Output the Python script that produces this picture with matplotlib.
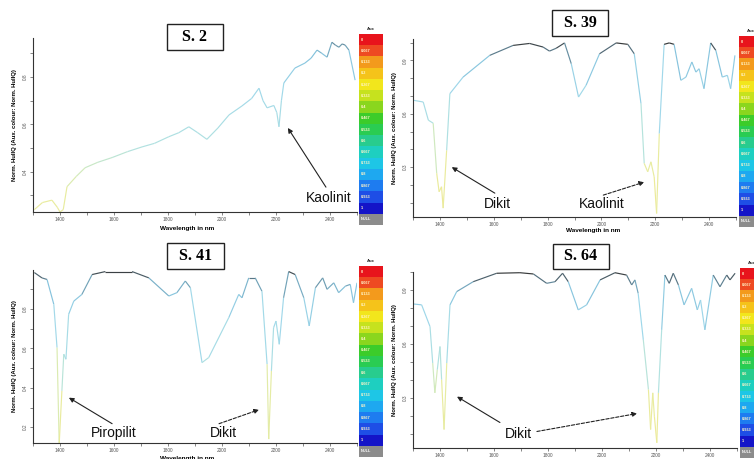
import numpy as np
import matplotlib
matplotlib.use('Agg')
import matplotlib.pyplot as plt
from matplotlib.collections import LineCollection
from matplotlib.colors import LinearSegmentedColormap
from matplotlib.patches import Rectangle
from matplotlib.ticker import MultipleLocator

# spectra (wavelength in nm, normalised hull quotient)
s2_wl = [1305, 1335, 1370, 1390, 1400, 1412, 1426, 1460, 1493, 1540, 1593, 1650, 1704, 1750,
         1803, 1840, 1877, 1910, 1944, 1985, 2026, 2074, 2110, 2137, 2152, 2167, 2192, 2203,
         2211, 2220, 2229, 2270, 2307, 2330, 2352, 2370, 2389, 2407, 2420, 2433, 2445, 2456,
         2470, 2493]
s2_val = [0.24, 0.27, 0.28, 0.25, 0.23, 0.24, 0.337, 0.38, 0.417, 0.44, 0.46, 0.485, 0.505, 0.52,
          0.548, 0.565, 0.59, 0.565, 0.537, 0.585, 0.64, 0.678, 0.71, 0.753, 0.70, 0.67, 0.68, 0.65,
          0.59, 0.70, 0.775, 0.838, 0.859, 0.88, 0.914, 0.90, 0.884, 0.947, 0.935, 0.926, 0.94, 0.935,
          0.914, 0.787]

s39_wl = [1301, 1338, 1357, 1375, 1388, 1397, 1406, 1412, 1425, 1437, 1486, 1585, 1672, 1733,
          1783, 1807, 1832, 1863, 1888, 1915, 1943, 1993, 2055, 2098, 2122, 2147, 2159, 2172,
          2184, 2196, 2205, 2215, 2233, 2252, 2270, 2295, 2314, 2336, 2351, 2363, 2381, 2406,
          2425, 2449, 2468, 2480, 2496]
s39_val = [0.676, 0.666, 0.564, 0.547, 0.266, 0.162, 0.19, 0.07, 0.395, 0.713, 0.806, 0.928, 0.984,
           0.995, 0.975, 0.952, 0.968, 0.998, 0.881, 0.694, 0.76, 0.937, 0.998, 0.99, 0.937, 0.657,
           0.321, 0.274, 0.33, 0.246, 0.04, 0.489, 0.99, 0.998, 0.99, 0.788, 0.806, 0.891, 0.834,
           0.853, 0.741, 0.998, 0.956, 0.806, 0.816, 0.741, 0.928]

s41_wl = [1305, 1333, 1352, 1377, 1389, 1397, 1407, 1414, 1422, 1432, 1451, 1481, 1519, 1568,
          1667, 1729, 1803, 1833, 1864, 1883, 1926, 1951, 2025, 2062, 2074, 2099, 2123, 2148,
          2167, 2173, 2183, 2191, 2200, 2212, 2228, 2247, 2271, 2303, 2323, 2346, 2373, 2389,
          2414, 2432, 2457, 2475, 2487, 2500]
s41_val = [0.985, 0.958, 0.95, 0.824, 0.604, 0.115, 0.385, 0.571, 0.545, 0.773, 0.84, 0.874, 0.975,
           0.99, 0.99, 0.958, 0.866, 0.883, 0.942, 0.908, 0.528, 0.554, 0.756, 0.874, 0.857, 0.958,
           0.958, 0.89, 0.52, 0.14, 0.486, 0.705, 0.739, 0.621, 0.857, 0.99, 0.975, 0.857, 0.714,
           0.908, 0.958, 0.9, 0.933, 0.883, 0.916, 0.925, 0.832, 0.933]

s64_wl = [1301, 1332, 1363, 1373, 1381, 1390, 1400, 1406, 1415, 1425, 1437, 1462, 1523, 1610,
          1696, 1746, 1795, 1826, 1854, 1875, 1912, 1943, 1993, 2048, 2091, 2110, 2122, 2134,
          2153, 2172, 2180, 2188, 2194, 2203, 2209, 2221, 2233, 2249, 2264, 2283, 2304, 2332,
          2353, 2365, 2381, 2412, 2437, 2462, 2474, 2493]
s64_val = [0.822, 0.817, 0.696, 0.493, 0.327, 0.456, 0.585, 0.4, 0.123, 0.493, 0.817, 0.891, 0.946,
           0.993, 0.996, 0.989, 0.937, 0.946, 0.993, 0.946, 0.789, 0.817, 0.956, 0.996, 0.983, 0.928,
           0.956, 0.881, 0.622, 0.345, 0.123, 0.327, 0.197, 0.049, 0.327, 0.678, 0.983, 0.937, 0.993,
           0.928, 0.817, 0.909, 0.789, 0.844, 0.678, 0.983, 0.918, 0.983, 0.956, 0.993]

aux_labels = ['0', '0.067', '0.133', '0.2', '0.267', '0.333', '0.4', '0.467', '0.533',
              '0.6', '0.667', '0.733', '0.8', '0.867', '0.933', '1', 'NULL']
aux_colors = ['#e8141c', '#ee4a22', '#f39a1c', '#f5c31a', '#f2e61c', '#c6e21e', '#8ad61e',
              '#3ccc2a', '#2acc52', '#28cc8e', '#1ecfc0', '#1ec6e6', '#1ea8f0', '#1e7cf0',
              '#1e4ee6', '#1414c8', '#8c8c8c']

# pale version of the aux scale, dark near the hull (value 1)
curve_cmap = LinearSegmentedColormap.from_list('hull', [
    (0.0, '#f0e894'), (0.3, '#e8eca0'), (0.4, '#d2eabc'), (0.5, '#b2e2e0'), (0.75, '#a0d8ea'),
    (0.9, '#84c2dc'), (0.96, '#5a7888'), (1.0, '#333333')])

W, H = 754, 459
fig = plt.figure(figsize=(7.54, 4.59), dpi=100)
plt.rcParams['font.family'] = ['Liberation Sans', 'DejaVu Sans']

def px_rect(x0, y0, x1, y1):
    """pixel box (top-left origin) -> figure fraction rect"""
    return [x0 / W, 1 - y1 / H, (x1 - x0) / W, (y1 - y0) / H]

def draw_spectrum(ax, wl, val):
    pts = np.column_stack([wl, val]).reshape(-1, 1, 2)
    segs = np.concatenate([pts[:-1], pts[1:]], axis=1)
    v = np.array(val)
    lc = LineCollection(segs, cmap=curve_cmap, norm=plt.Normalize(0, 1), linewidths=0.85)
    lc.set_array((v[:-1] + v[1:]) / 2)
    ax.add_collection(lc)

def style_axes(ax, ylim, ymajor, xlab_pos):
    ax.set_xlim(1300, 2500)
    ax.set_ylim(*ylim)
    ax.xaxis.set_major_locator(MultipleLocator(200))
    ax.xaxis.set_minor_locator(MultipleLocator(100))
    ax.yaxis.set_major_locator(MultipleLocator(ymajor))
    ax.yaxis.set_minor_locator(MultipleLocator(0.1))
    for s in ['top', 'right']:
        ax.spines[s].set_visible(False)
    for s in ['left', 'bottom']:
        ax.spines[s].set_color('#333333')
        ax.spines[s].set_linewidth(0.8)
    ax.tick_params(which='both', direction='out', length=2, width=0.5, color='#555555',
                   labelsize=3.4, labelcolor='#555555', pad=1.5)
    ax.tick_params(axis='y', labelrotation=90)
    for lab in ax.get_yticklabels():
        lab.set_va('center')
    ax.set_ylabel('Norm. HullQ (Aux. colour: Norm. HullQ)', fontsize=4.3, fontweight='bold')
    ax.yaxis.set_label_coords(-0.05, 0.5)
    ax.set_xlabel('Wavelength in nm', fontsize=4.6, fontweight='bold')
    ax.xaxis.set_label_coords(*xlab_pos)

def aux_bar(rect):
    cax = fig.add_axes(rect)
    n = len(aux_labels)
    cax.barh(np.arange(n), 1, height=1, left=0, color=aux_colors, edgecolor='none')
    for i, lab in enumerate(aux_labels):
        cax.text(0.07, i, lab, fontsize=2.8, color='#fff4c8' if lab != 'NULL' else 'white',
                 va='center', ha='left', fontweight='bold')
    cax.text(0.5, -0.75, 'Aux', fontsize=3, va='bottom', ha='center', color='#222222',
             fontweight='bold')
    cax.set_xlim(0, 1)
    cax.set_ylim(n - 0.5, -0.5)
    cax.axis('off')

def title_box(x0, y0, x1, y1, label):
    fig.patches.append(Rectangle((x0 / W, 1 - y1 / H), (x1 - x0) / W, (y1 - y0) / H,
                                 transform=fig.transFigure, facecolor='white',
                                 edgecolor='#222222', linewidth=1.0, zorder=5))
    fig.text((x0 + x1) / 2 / W, 1 - (y0 + y1) / 2 / H, label, ha='center', va='center',
             fontsize=11.5, fontweight='bold', family='Liberation Serif', zorder=6)

def note(ax, text, text_xy, tail, head, dashed=False):
    ax.text(text_xy[0], text_xy[1], text, fontsize=10, ha='center', va='center', color='#111111')
    ls = (0, (3, 1.5)) if dashed else '-'
    ax.annotate('', xy=head, xytext=tail,
                arrowprops=dict(arrowstyle='-|>', color='#222222', lw=0.8, linestyle=ls,
                                mutation_scale=7, shrinkA=0, shrinkB=0))

# panel S. 2
ax1 = fig.add_axes(px_rect(33, 38, 357, 212))
draw_spectrum(ax1, s2_wl, s2_val)
style_axes(ax1, (0.23, 0.965), 0.2, (0.475, -0.08))
note(ax1, 'Kaolinit', (2396, 0.29), (2385, 0.335), (2244, 0.585))
aux_bar(px_rect(359, 34, 383, 225))
title_box(167, 24, 223, 50, 'S. 2')

# panel S. 39
ax2 = fig.add_axes(px_rect(413, 39, 736, 217))
draw_spectrum(ax2, s39_wl, s39_val)
style_axes(ax2, (0.02, 1.02), 0.3, (0.557, -0.06))
note(ax2, 'Dikit', (1615, 0.093), (1604, 0.154), (1444, 0.30))
note(ax2, 'Kaolinit', (2000, 0.093), (2007, 0.143), (2159, 0.216), dashed=True)
aux_bar(px_rect(739, 36, 763, 227))
title_box(552, 10, 608, 36, 'S. 39')

# panel S. 41
ax3 = fig.add_axes(px_rect(33, 270, 357, 443))
draw_spectrum(ax3, s41_wl, s41_val)
style_axes(ax3, (0.12, 0.998), 0.2, (0.475, -0.075))
note(ax3, 'Piropilit', (1600, 0.173), (1593, 0.218), (1433, 0.35))
note(ax3, 'Dikit', (2007, 0.173), (1989, 0.218), (2137, 0.289), dashed=True)
aux_bar(px_rect(359, 266, 383, 457))
title_box(167, 243, 224, 269, 'S. 41')

# panel S. 64
ax4 = fig.add_axes(px_rect(413, 272, 737, 448))
draw_spectrum(ax4, s64_wl, s64_val)
style_axes(ax4, (0.02, 1.0), 0.3, (0.45, -0.08))
note(ax4, 'Dikit', (1689, 0.10), (1622, 0.162), (1463, 0.306))
note(ax4, '', (1689, 0.10), (1759, 0.112), (2130, 0.212), dashed=True)
aux_bar(px_rect(740, 268, 764, 458))
title_box(553, 244, 609, 269, 'S. 64')

fig.savefig('out.png', dpi=100)
